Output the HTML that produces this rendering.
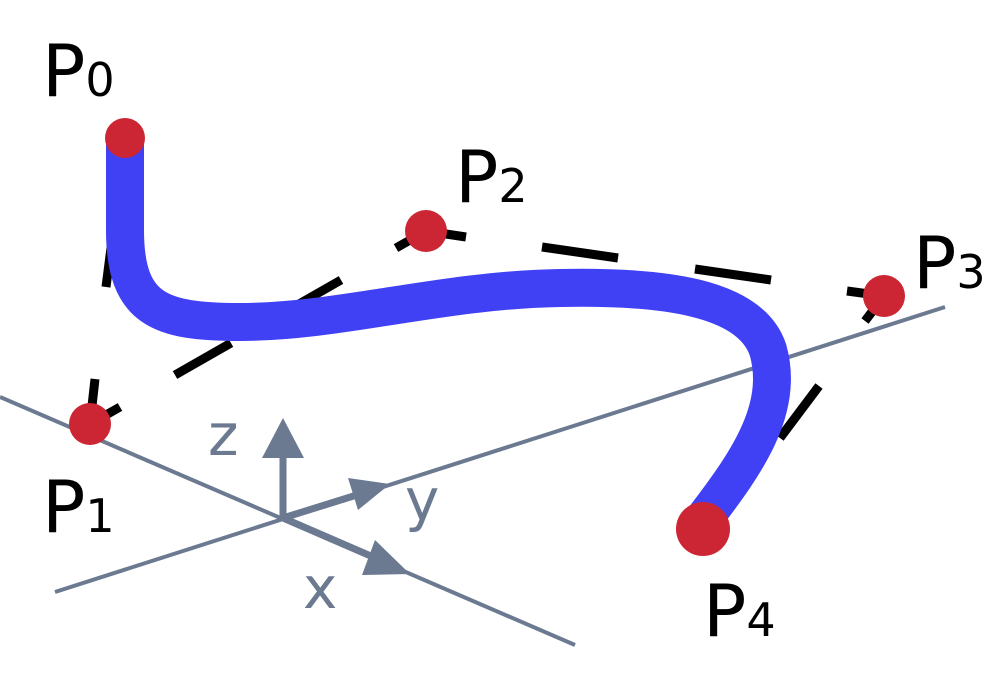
<!DOCTYPE html>
<html><head><meta charset="utf-8"><style>
html,body{margin:0;padding:0;background:#fff;width:1003px;height:678px;overflow:hidden}
text{font-family:"DejaVu Sans","Liberation Sans",sans-serif}
</style></head><body>
<svg width="1003" height="678" viewBox="0 0 1003 678" xmlns="http://www.w3.org/2000/svg">
<g stroke="#6b7a90" stroke-width="4" fill="none">
<line x1="0" y1="397" x2="575" y2="645"/>
<line x1="55" y1="592" x2="945" y2="307"/>
</g>
<g stroke="#6b7a90" stroke-width="7" fill="none">
<line x1="283" y1="518" x2="283" y2="450"/>
<line x1="283" y1="518" x2="360" y2="494"/>
<line x1="283" y1="518" x2="380" y2="560"/>
</g>
<g fill="#6b7a90">
<polygon points="283,418 262,458 304,458"/>
<polygon points="390,484 348,478 358,510"/>
<polygon points="410,574 375,540 362,575"/>
</g>
<g fill="#6b7a90" font-size="58">
<text x="208" y="455">z</text>
<text x="405" y="520">y</text>
<text x="303" y="608">x</text>
</g>
<g stroke="#000" stroke-width="9" fill="none">
<line x1="125" y1="138" x2="120" y2="178"/>
<line x1="112" y1="240" x2="106" y2="287"/>
<line x1="95" y1="379" x2="90" y2="424"/>
<line x1="90" y1="424" x2="120" y2="407"/>
<line x1="175" y1="375" x2="231" y2="343"/>
<line x1="285" y1="312" x2="341" y2="280"/>
<line x1="396" y1="248" x2="426" y2="231"/>
<line x1="426" y1="231" x2="466" y2="237"/>
<line x1="542" y1="247" x2="618" y2="258"/>
<line x1="695" y1="269" x2="771" y2="280"/>
<line x1="847" y1="291" x2="884" y2="296"/>
<line x1="884" y1="296" x2="865" y2="321"/>
<line x1="819" y1="386" x2="780" y2="438"/>
<line x1="742" y1="489" x2="703" y2="529"/>
</g>
<path d="M125,140 L125,230 C125,310 160,322 240,322 C340,322 440,290 560,288 C660,286 750,296 768,350 C785,410 745,465 703,520" stroke="#4040f5" stroke-width="38" fill="none" stroke-linecap="round"/>
<g fill="#cc2533">
<circle cx="125" cy="138" r="20"/>
<circle cx="90" cy="424" r="21"/>
<circle cx="426" cy="231" r="21"/>
<circle cx="884" cy="296" r="21"/>
<circle cx="703" cy="529" r="27"/>
</g>
<g fill="#000" font-size="72">
<text x="42" y="96">P<tspan font-size="46">0</tspan></text>
<text x="42" y="532">P<tspan font-size="46">1</tspan></text>
<text x="455" y="202">P<tspan font-size="46">2</tspan></text>
<text x="913" y="288">P<tspan font-size="46">3</tspan></text>
<text x="703" y="636">P<tspan font-size="46">4</tspan></text>
</g>
</svg>
</body></html>
